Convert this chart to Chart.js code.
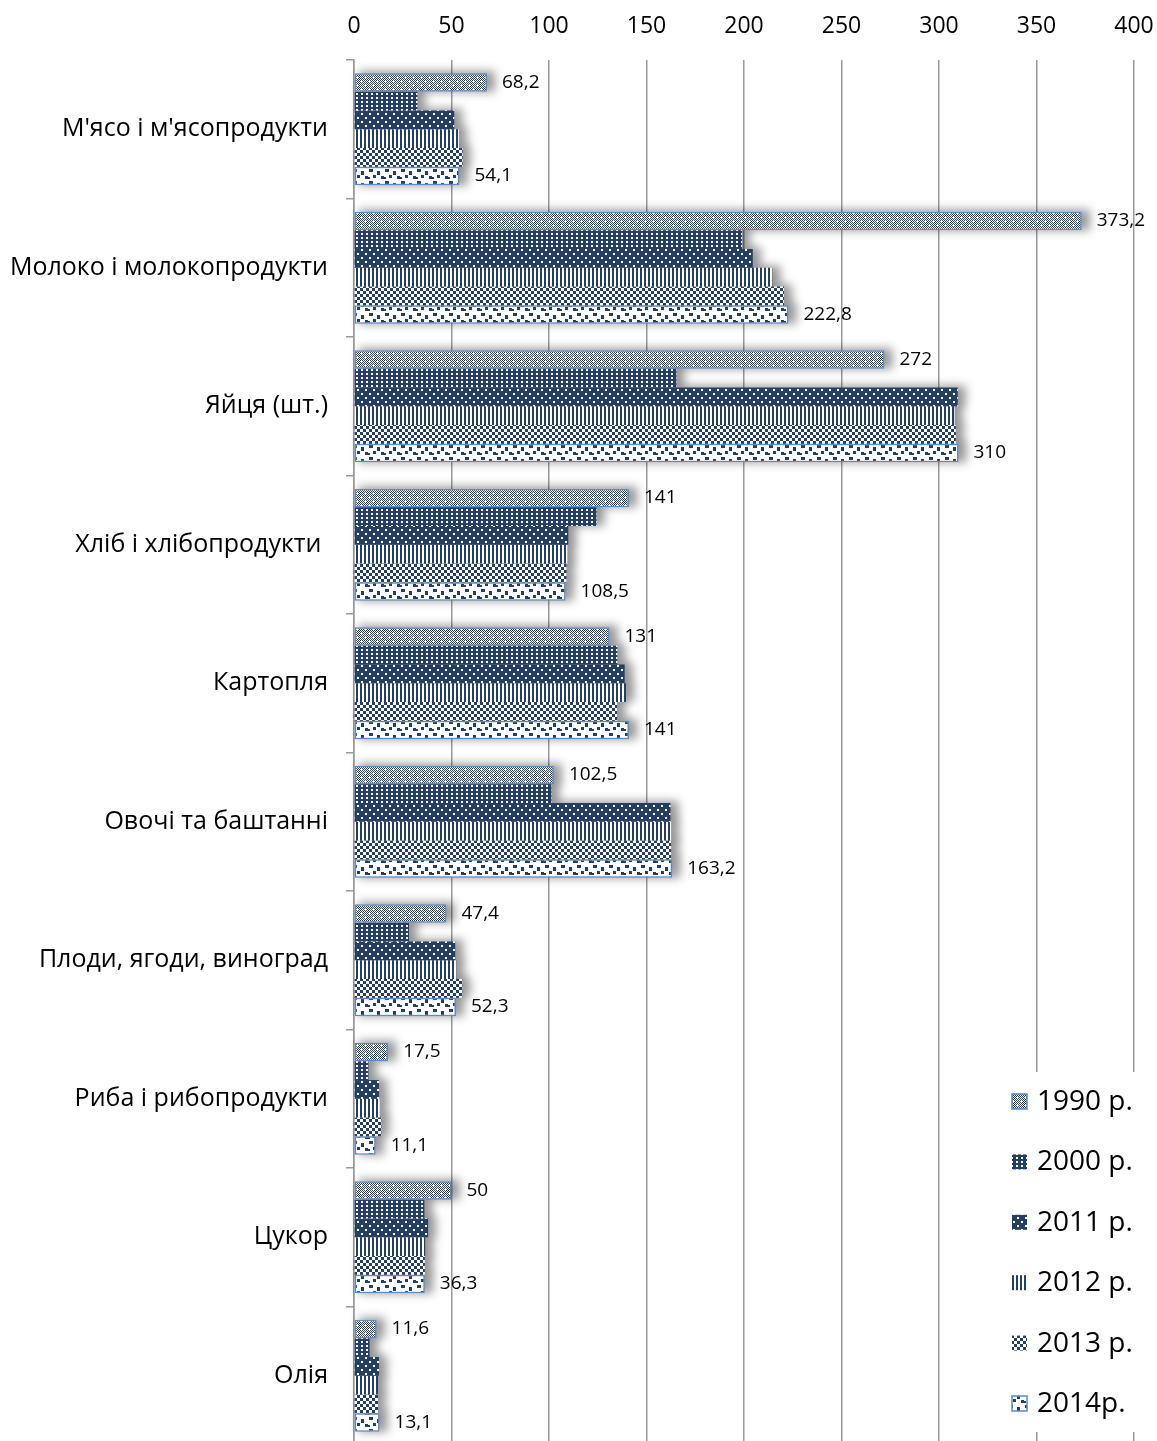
<!DOCTYPE html>
<html>
<head>
<meta charset="utf-8">
<script src="https://cdn.jsdelivr.net/npm/chart.js@4.4.0/dist/chart.umd.min.js"></script>
<style>
html,body{margin:0;padding:0;background:#fff;overflow:hidden;}
#wrap{position:relative;width:1157px;height:1460px;}
</style>
</head>
<body>
<div id="wrap"><canvas id="c" width="1157" height="1460"></canvas></div>
<script>
const categories = ["М'ясо і м'ясопродукти","Молоко і молокопродукти","Яйця (шт.)","Хліб і хлібопродукти ","Картопля","Овочі та баштанні","Плоди, ягоди, виноград","Риба і рибопродукти","Цукор","Олія"];
const years = ["1990 р.","2000 р.","2011 р.","2012 р.","2013 р.","2014р."];
const v1990 = [68.2,373.2,272,141,131,102.5,47.4,17.5,50,11.6];
const v2000 = [32.5,199,165.3,124.3,135,101.2,28.2,7.4,36.1,8];
const v2011 = [51.4,204.5,309.6,109.9,138.8,162.3,51.9,12.8,38,12.8];
const v2012 = [53.8,214.5,308,109.4,139.5,162.6,52.4,13.2,36.5,12.3];
const v2013 = [55.7,220.5,308.6,108.9,134.9,162.6,55.5,14,36.3,12.3];
const v2014 = [54.1,222.8,310,108.5,141,163.2,52.3,11.1,36.3,13.1];
const xTicks = [0,50,100,150,200,250,300,350,400];
const labeledSeries = [0,5];

const NAVY = '#243e64';
const EDGE = '#5b8ac6';
const FONT = "'Open Sans', 'Noto Sans', sans-serif";

function pat(w,h,draw){
  const c=document.createElement('canvas'); c.width=w; c.height=h;
  const x=c.getContext('2d'); draw(x);
  return document.getElementById('c').getContext('2d').createPattern(c,'repeat');
}
const p1990 = pat(8,8,x=>{
  x.fillStyle='#fff'; x.fillRect(0,0,8,8);
  x.fillStyle=NAVY;
  for(let i=0;i<8;i++)for(let j=0;j<8;j++) if((i+j)%2===0) x.fillRect(i,j,1,1);
  x.fillStyle='#fff';
  x.fillRect(4,5,3,1); x.fillRect(5,4,1,3);
  x.fillRect(0,1,3,1); x.fillRect(1,0,1,3);
});
const p2000 = pat(5,4,x=>{
  x.fillStyle=NAVY; x.fillRect(0,0,5,4);
  x.fillStyle='#fff'; x.fillRect(1,1,2,2);
});
const p2011 = pat(8,8,x=>{
  x.fillStyle=NAVY; x.fillRect(0,0,8,8);
  x.fillStyle='#fff'; x.fillRect(1,1,2,2); x.fillRect(5,5,2,2);
});
const p2012 = pat(4,1,x=>{
  x.fillStyle='#fff'; x.fillRect(0,0,4,1);
  x.fillStyle=NAVY; x.fillRect(0,0,2,1);
});
const p2013 = pat(6,6,x=>{
  x.fillStyle='#fff'; x.fillRect(0,0,6,6);
  x.fillStyle=NAVY; x.fillRect(0,0,3,3); x.fillRect(3,3,3,3);
});
const p2014 = pat(16,12,x=>{
  x.fillStyle='#fff'; x.fillRect(0,0,16,12);
  x.fillStyle=NAVY;
  x.fillRect(1,1,4,3); x.fillRect(9,3,3,4); x.fillRect(5,7,3,3); x.fillRect(13,8,3,3); x.fillRect(0,9,2,2);
});
const fills=[p1990,p2000,p2011,p2012,p2013,p2014];
const borders=[EDGE,null,null,null,null,EDGE];
const series=[v1990,v2000,v2011,v2012,v2013,v2014];

const datasets = series.map((d,i)=>({
  label: years[i],
  data: d,
  backgroundColor: fills[i],
  borderColor: borders[i]||'rgba(0,0,0,0)',
  borderWidth: borders[i]?1.5:0,
  borderSkipped: false,
  barPercentage: 1,
  categoryPercentage: 0.81
}));

const shadowPlugin = {
  id:'shadow',
  beforeDatasetsDraw(chart){
    const ctx=chart.ctx; ctx.save();
    ctx.filter='blur(5px)';
    ctx.fillStyle='rgba(0,0,0,0.4)';
    chart.data.datasets.forEach((ds,di)=>{
      const meta=chart.getDatasetMeta(di);
      meta.data.forEach(bar=>{
        const p=bar.getProps(['x','y','base','height'],true);
        ctx.fillRect(p.base+4, p.y-p.height/2-2, p.x-p.base+4, p.height+2);
      });
    });
    ctx.restore();
  },
  afterDatasetsDraw(chart){
    const ctx=chart.ctx;
    ctx.save();
    ctx.font = "19px "+FONT;
    ctx.fillStyle='#000';
    ctx.textBaseline='middle'; ctx.textAlign='left';
    labeledSeries.forEach(di=>{
      const meta=chart.getDatasetMeta(di);
      meta.data.forEach((bar,k)=>{
        const v=chart.data.datasets[di].data[k];
        ctx.fillText(String(v).replace('.',','), bar.x+15, bar.y);
      });
    });
    ctx.restore();
  }
};

const legendPlugin = {
  id:'legendBox',
  afterDraw(chart){
    const ctx=chart.ctx; ctx.save();
    ctx.fillStyle='#fff'; ctx.fillRect(1000,1072,157,360);
    ctx.font="28px "+FONT; ctx.textBaseline='middle'; ctx.textAlign='left';
    chart.data.datasets.forEach((ds,i)=>{
      const y=1101+i*60.4;
      ctx.fillStyle=ds.backgroundColor; ctx.fillRect(1012,y-7,15,15);
      if(borders[i]){ctx.strokeStyle=borders[i]; ctx.lineWidth=1.5; ctx.strokeRect(1012,y-7,15,15);}
      ctx.fillStyle='#000'; ctx.fillText(ds.label,1037,y+1);
    });
    ctx.restore();
  }
};

new Chart(document.getElementById('c'),{
  type:'bar',
  data:{labels:categories, datasets},
  options:{
    indexAxis:'y',
    responsive:false,
    animation:false,
    layout:{padding:{top:0,right:23,bottom:15,left:0}},
    plugins:{legend:{display:false},tooltip:{enabled:false},title:{display:false}},
    scales:{
      x:{
        position:'top', min:0, max:400,
        afterBuildTicks(s){ s.ticks = xTicks.map(v=>({value:v})); },
        afterFit(s){ s.height=60; s.paddingLeft=0; s.paddingRight=0; },
        ticks:{font:{family:FONT,size:23}, color:'#000', padding:20, maxRotation:0, autoSkip:false},
        grid:{color:'#9a9a9a', lineWidth:1.5, drawTicks:false},
        border:{display:false}
      },
      y:{
        afterFit(s){ s.width=354; s.paddingTop=0; s.paddingBottom=0; },
        ticks:{font:{family:FONT,size:25}, color:'#000', padding:18, autoSkip:false},
        grid:{drawOnChartArea:false, drawTicks:true, tickLength:8, color:'#9a9a9a', lineWidth:1.5, offset:true},
        border:{display:true, color:'#9a9a9a', width:1.5}
      }
    }
  },
  plugins:[shadowPlugin, legendPlugin]
});
</script>
</body>
</html>
